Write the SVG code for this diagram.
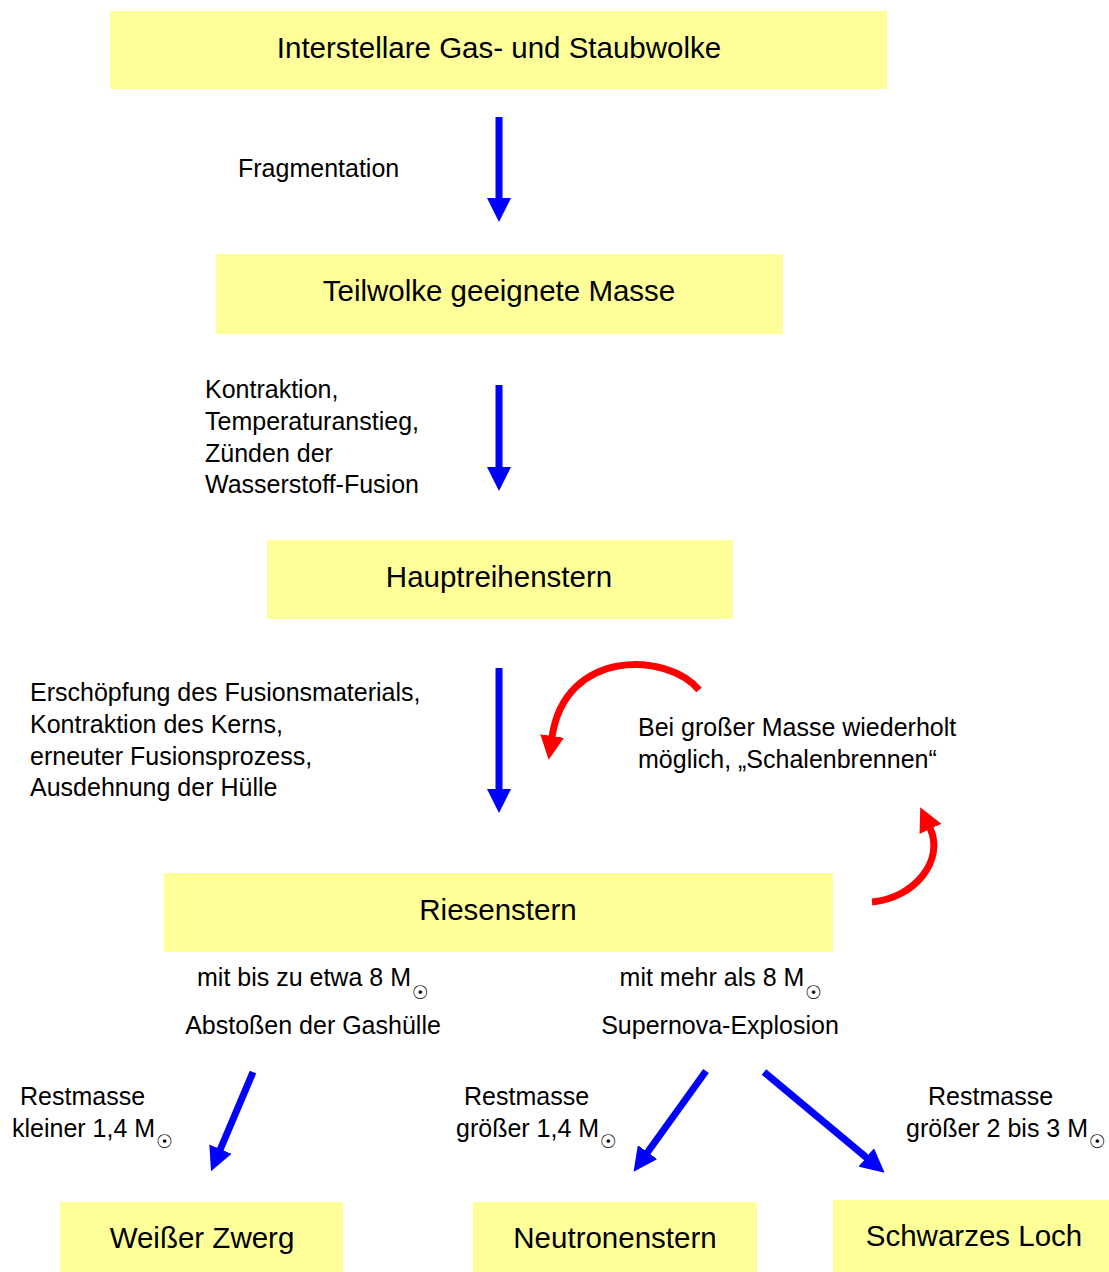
<svg xmlns="http://www.w3.org/2000/svg" width="1109" height="1272" viewBox="0 0 1109 1272">
  <style>
    .box { fill: #FFFF99; }
    .title { font-family: "Liberation Sans", Arial, sans-serif; font-size: 29.5px; fill: #000; text-anchor: middle; }
    .lbl { font-family: "Liberation Sans", Arial, sans-serif; font-size: 25px; fill: #000; }
    .mid { text-anchor: middle; }
    .sun { font-family: "DejaVu Sans", sans-serif; font-size: 19px; }
    .flow { fill: none; stroke: #0000FF; stroke-width: 7; marker-end: url(#headBlue); }
    .loop { fill: none; stroke: #FF0000; stroke-width: 7; marker-end: url(#headRed); }
  </style>
  <defs>
    <marker id="headBlue" viewBox="0 0 24 24" markerWidth="24" markerHeight="24" markerUnits="userSpaceOnUse" refX="1" refY="12" orient="auto">
      <path d="M0,0 L24,12 L0,24 Z" fill="#0000FF"/>
    </marker>
    <marker id="headRed" viewBox="0 0 24 24" markerWidth="24" markerHeight="24" markerUnits="userSpaceOnUse" refX="1" refY="12" orient="auto">
      <path d="M0,0 L24,12 L0,24 Z" fill="#FF0000"/>
    </marker>
  </defs>

  <!-- stages -->
  <g id="cloud">
    <rect class="box" x="110" y="11" width="777" height="78"/>
    <text class="title" x="499" y="58">Interstellare Gas- und Staubwolke</text>
  </g>
  <g id="fragment">
    <rect class="box" x="216" y="254" width="567" height="80"/>
    <text class="title" x="499" y="301">Teilwolke geeignete Masse</text>
  </g>
  <g id="mainsequence">
    <rect class="box" x="267" y="540" width="466" height="79"/>
    <text class="title" x="499" y="587">Hauptreihenstern</text>
  </g>
  <g id="giant">
    <rect class="box" x="164" y="873" width="669" height="79"/>
    <text class="title" x="498" y="920">Riesenstern</text>
  </g>
  <g id="whitedwarf">
    <rect class="box" x="60" y="1202" width="283" height="70"/>
    <text class="title" x="202" y="1248">Weißer Zwerg</text>
  </g>
  <g id="neutronstar">
    <rect class="box" x="473" y="1202" width="284" height="70"/>
    <text class="title" x="615" y="1248">Neutronenstern</text>
  </g>
  <g id="blackhole">
    <rect class="box" x="833" y="1200" width="276" height="72"/>
    <text class="title" x="974" y="1246">Schwarzes Loch</text>
  </g>

  <!-- transitions -->
  <g id="connectors">
    <path class="flow" d="M499,117 L499,199"/>
    <path class="flow" d="M499,385 L499,468"/>
    <path class="flow" d="M499,668 L499,790"/>
    <path class="flow" d="M253,1072 L220,1150"/>
    <path class="flow" d="M706,1071 L647,1153"/>
    <path class="flow" d="M764,1072 L867,1158"/>
    <path class="loop" d="M699,690 C668,652 565,648 552,737"/>
    <path class="loop" d="M872,902 C915,898 945,860 930,828"/>
  </g>

  <!-- transition labels -->
  <g id="labels">
    <text class="lbl" x="238" y="177">Fragmentation</text>
    <text class="lbl" x="205" y="398">Kontraktion,</text>
    <text class="lbl" x="205" y="430">Temperaturanstieg,</text>
    <text class="lbl" x="205" y="462">Zünden der</text>
    <text class="lbl" x="205" y="493">Wasserstoff-Fusion</text>
    <text class="lbl" x="30" y="701">Erschöpfung des Fusionsmaterials,</text>
    <text class="lbl" x="30" y="733">Kontraktion des Kerns,</text>
    <text class="lbl" x="30" y="765">erneuter Fusionsprozess,</text>
    <text class="lbl" x="30" y="796">Ausdehnung der Hülle</text>
    <text class="lbl" x="638" y="736">Bei großer Masse wiederholt</text>
    <text class="lbl" x="638" y="768">möglich, „Schalenbrennen“</text>
    <text class="lbl mid" x="313" y="986">mit bis zu etwa 8 M<tspan class="sun" dx="1" dy="13">☉</tspan></text>
    <text class="lbl mid" x="313" y="1034">Abstoßen der Gashülle</text>
    <text class="lbl mid" x="721" y="986">mit mehr als 8 M<tspan class="sun" dx="1" dy="13">☉</tspan></text>
    <text class="lbl mid" x="720" y="1034">Supernova-Explosion</text>
    <text class="lbl" x="20" y="1105">Restmasse</text>
    <text class="lbl" x="12" y="1137">kleiner 1,4 M<tspan class="sun" dx="1" dy="11">☉</tspan></text>
    <text class="lbl" x="464" y="1105">Restmasse</text>
    <text class="lbl" x="456" y="1137">größer 1,4 M<tspan class="sun" dx="1" dy="11">☉</tspan></text>
    <text class="lbl" x="928" y="1105">Restmasse</text>
    <text class="lbl" x="906" y="1137">größer 2 bis 3 M<tspan class="sun" dx="1" dy="11">☉</tspan></text>
  </g>
</svg>
